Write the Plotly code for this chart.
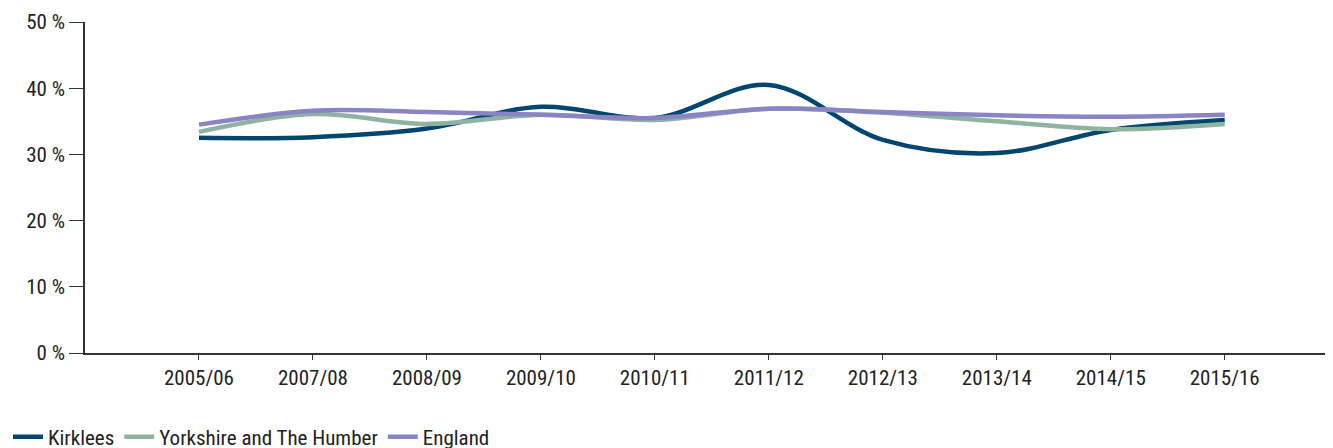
import plotly.graph_objects as go

years = ["2005/06", "2007/08", "2008/09", "2009/10", "2010/11",
         "2011/12", "2012/13", "2013/14", "2014/15", "2015/16"]
kirklees = [32.5, 32.6, 33.9, 37.2, 35.5, 40.5, 32.2, 30.2, 33.7, 35.2]
yorkshire = [33.4, 36.1, 34.6, 36.0, 35.2, 36.9, 36.3, 35.0, 33.8, 34.6]
england = [34.5, 36.6, 36.4, 36.0, 35.5, 36.9, 36.4, 35.9, 35.7, 36.0]
y_ticks = [0, 10, 20, 30, 40, 50]
y_tick_labels = ["0 %", "10 %", "20 %", "30 %", "40 %", "50 %"]

series = [
    ("Kirklees", kirklees, "#00466e"),
    ("Yorkshire and The Humber", yorkshire, "#8fb3a1"),
    ("England", england, "#8a84c4"),
]

FONT = "Liberation Sans Narrow, Arial Narrow, Roboto Condensed, sans-serif"

fig = go.Figure()
for name, vals, color in series:
    fig.add_trace(go.Scatter(
        x=list(range(len(years))), y=vals, name=name, mode="lines",
        line=dict(color=color, width=4.5, shape="spline", smoothing=1.0),
    ))

fig.update_layout(
    width=1333, height=448,
    margin=dict(l=77, r=8, t=14, b=103),
    paper_bgcolor="white", plot_bgcolor="white",
    font=dict(family=FONT, size=21, color="#222"),
    showlegend=True,
    legend=dict(orientation="h", xref="container", yref="container",
                x=-0.002, y=0.042, xanchor="left", yanchor="middle",
                font=dict(size=21, family=FONT, color="#222"),
                tracegroupgap=0),
    xaxis=dict(
        range=[-1, 9.95], automargin=False,
        tickmode="array", tickvals=list(range(len(years))), ticktext=years,
        showgrid=False, zeroline=False,
        showline=True, linecolor="#333", linewidth=1.5,
        ticks="outside", ticklen=5, tickcolor="#333",
        tickfont=dict(size=21, family=FONT, color="#222"),
        fixedrange=True,
    ),
    yaxis=dict(
        range=[0, 50], automargin=False,
        tickmode="array", tickvals=y_ticks, ticktext=y_tick_labels,
        showgrid=False, zeroline=False,
        showline=True, linecolor="#333", linewidth=1.5,
        ticks="outside", ticklen=14, tickcolor="#333",
        tickfont=dict(size=21, family=FONT, color="#222"),
        fixedrange=True,
    ),
)

fig.write_html("out.html")
